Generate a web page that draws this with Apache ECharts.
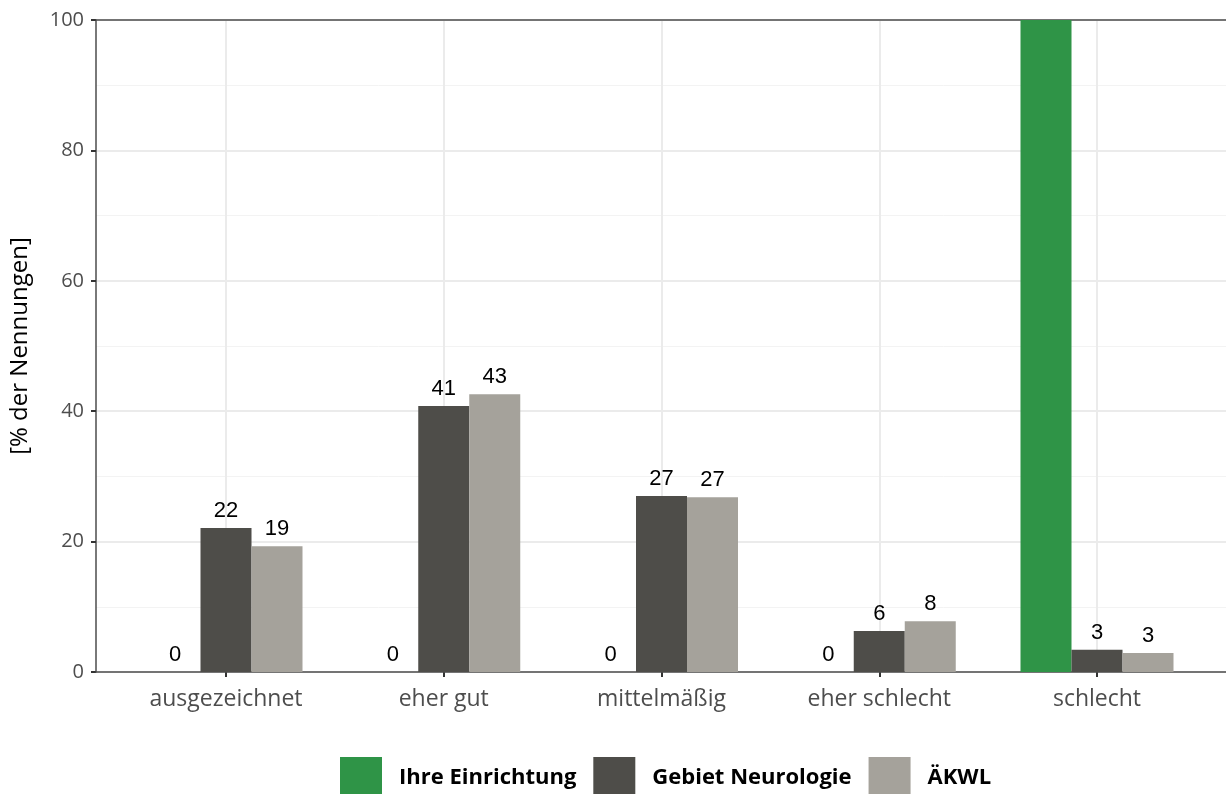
<!DOCTYPE html>
<html><head><meta charset="utf-8">
<script src="https://cdn.jsdelivr.net/npm/echarts@6/dist/echarts.min.js"></script>
<style>html,body{margin:0;padding:0;background:#fff}#c{width:1226px;height:794px}</style>
</head><body><div id="c"></div>
<script>
const categories = ['ausgezeichnet', 'eher gut', 'mittelmäßig', 'eher schlecht', 'schlecht'];
const seriesNames = ['Ihre Einrichtung', 'Gebiet Neurologie', 'ÄKWL'];
const ihreEinrichtung = [0, 0, 0, 0, 100];
const gebietNeurologie = [22.1, 40.8, 27.0, 6.3, 3.4];
const aekwl = [19.3, 42.6, 26.8, 7.8, 2.9];
const yTicks = [0, 20, 40, 60, 80, 100];
const colors = ['#2f9447', '#4e4d49', '#a5a29b'];

const chart = echarts.init(document.getElementById('c'));
const labelCfg = {
  show: true, position: 'top', distance: 6, color: '#000',
  fontFamily: 'Liberation Sans, Arial', fontSize: 22,
  formatter: p => (p.value >= 100 ? '' : String(Math.round(p.value)))
};
const mk = (name, data, i) => ({
  name, type: 'bar', data, xAxisIndex: 0, yAxisIndex: 0,
  barWidth: 51, barGap: '0%', clip: false,
  itemStyle: { color: colors[i] }, label: labelCfg, z: 5
});
chart.setOption({
  animation: false,
  grid: [
    { left: 226, right: 129, top: 20, bottom: 122 },
    { left: 94, right: -1, top: 20, bottom: 122 }
  ],
  xAxis: [
    { type: 'category', gridIndex: 0, data: categories, boundaryGap: false,
      axisLine: { show: false },
      axisTick: { show: true, length: 5, lineStyle: { color: '#333', width: 2 } },
      axisLabel: { color: '#4d4d4d', fontFamily: 'Open Sans', fontSize: 23, margin: 16 },
      splitLine: { show: true, lineStyle: { color: '#ebebeb', width: 2 } }, z: 1 },
    { type: 'value', gridIndex: 1, min: 0, max: 1, position: 'bottom',
      axisLine: { show: true, lineStyle: { color: '#4d4d4d', width: 1.5 } },
      axisTick: { show: false }, axisLabel: { show: false }, splitLine: { show: false }, z: 3 },
    { type: 'value', gridIndex: 1, min: 0, max: 1, position: 'top',
      axisLine: { show: true, lineStyle: { color: '#4d4d4d', width: 1.5 } },
      axisTick: { show: false }, axisLabel: { show: false }, splitLine: { show: false }, z: 3 }
  ],
  yAxis: [
    { type: 'value', gridIndex: 0, min: 0, max: 100, show: false, splitLine: { show: false } },
    { type: 'value', gridIndex: 1, min: 0, max: 100, interval: 20,
      name: '[% der Nennungen]', nameLocation: 'middle', nameGap: 64,
      nameTextStyle: { color: '#000', fontFamily: 'Open Sans', fontSize: 24 },
      axisLine: { show: true, lineStyle: { color: '#4d4d4d', width: 1.5 } },
      axisTick: { show: true, length: 5, lineStyle: { color: '#333', width: 2 } },
      axisLabel: { color: '#4d4d4d', fontFamily: 'Open Sans', fontSize: 20, margin: 12,
        formatter: v => (yTicks.includes(v) ? String(v) : '') },
      splitLine: { show: true, lineStyle: { color: '#ebebeb', width: 2 } },
      minorTick: { show: false, splitNumber: 2 },
      minorSplitLine: { show: true, lineStyle: { color: '#f3f3f3', width: 1 } } }
  ],
  legend: {
    top: 752, left: 335, itemWidth: 42, itemHeight: 42, itemGap: 17,
    icon: 'rect',
    textStyle: { color: '#000', fontFamily: 'Open Sans', fontWeight: 'bold', fontSize: 22, padding: [0, 0, 0, 12] },
    data: seriesNames
  },
  series: [
    mk(seriesNames[0], ihreEinrichtung, 0),
    mk(seriesNames[1], gebietNeurologie, 1),
    mk(seriesNames[2], aekwl, 2)
  ]
});
</script></body></html>
